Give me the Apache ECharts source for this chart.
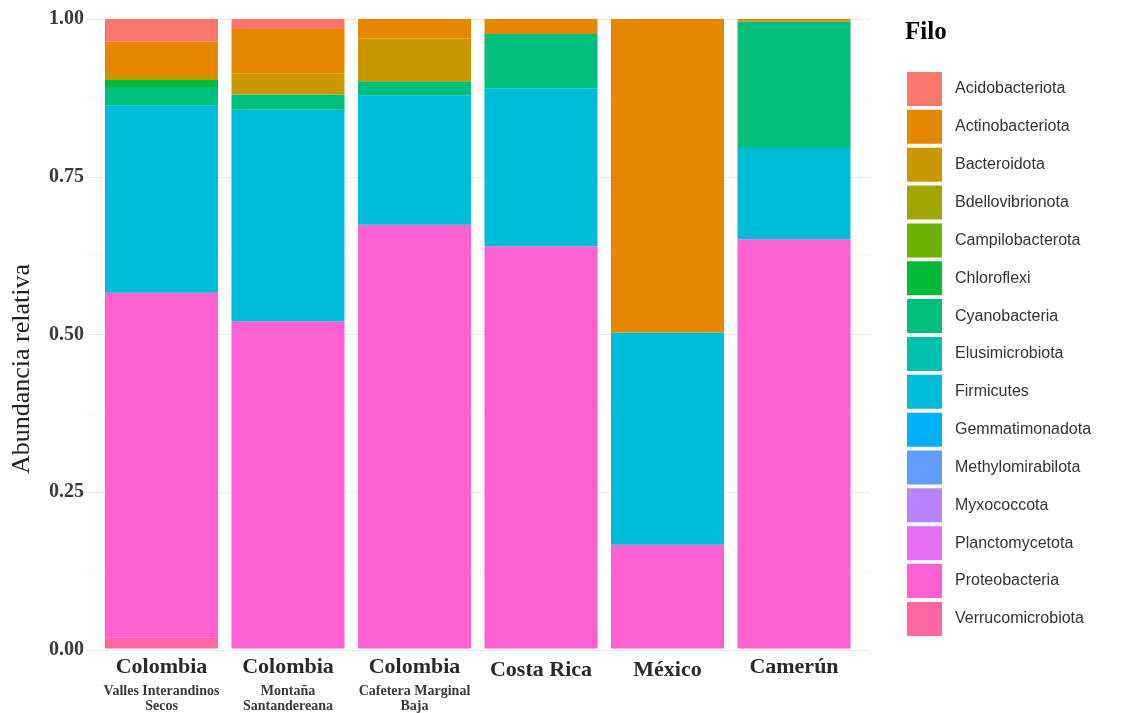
<!DOCTYPE html>
<html>
<head>
<meta charset="utf-8">
<script src="https://cdn.jsdelivr.net/npm/echarts@6/dist/echarts.min.js"></script>
<style>
html,body{margin:0;padding:0;background:#fff;}
#chart{width:1126px;height:713px;}
</style>
</head>
<body>
<div id="chart"></div>
<script>
// Categories
const countries = ['Colombia', 'Colombia', 'Colombia', 'Costa Rica', 'México', 'Camerún'];
const subregions = [['Valles Interandinos', 'Secos'], ['Montaña', 'Santandereana'], ['Cafetera Marginal', 'Baja'], [], [], []];

// Phyla (legend order, top of stack first)
const phyla = ['Acidobacteriota', 'Actinobacteriota', 'Bacteroidota', 'Bdellovibrionota', 'Campilobacterota',
  'Chloroflexi', 'Cyanobacteria', 'Elusimicrobiota', 'Firmicutes', 'Gemmatimonadota',
  'Methylomirabilota', 'Myxococcota', 'Planctomycetota', 'Proteobacteria', 'Verrucomicrobiota'];
const phylaColors = ['#F8766D', '#E58700', '#C99800', '#A3A500', '#6BB100', '#00BA38', '#00BF7D', '#00C0AF',
  '#00BCD8', '#00B0F6', '#619CFF', '#B983FF', '#E76BF3', '#FD61D1', '#FF67A4'];

// Relative abundance per phylum, one value per category
const Acidobacteriota   = [0.036, 0.016, 0.000, 0.000, 0.000, 0.000];
const Actinobacteriota  = [0.053, 0.070, 0.031, 0.024, 0.498, 0.004];
const Bacteroidota      = [0.008, 0.034, 0.068, 0.000, 0.000, 0.000];
const Bdellovibrionota  = [0, 0, 0, 0, 0, 0];
const Campilobacterota  = [0, 0, 0, 0, 0, 0];
const Chloroflexi       = [0.011, 0.000, 0.000, 0.000, 0.000, 0.000];
const Cyanobacteria     = [0.029, 0.024, 0.022, 0.086, 0.000, 0.201];
const Elusimicrobiota   = [0, 0, 0, 0, 0, 0];
const Firmicutes        = [0.298, 0.336, 0.206, 0.251, 0.337, 0.145];
const Gemmatimonadota   = [0, 0, 0, 0, 0, 0];
const Methylomirabilota = [0, 0, 0, 0, 0, 0];
const Myxococcota       = [0, 0, 0, 0, 0, 0];
const Planctomycetota   = [0, 0, 0, 0, 0, 0];
const Proteobacteria    = [0.548, 0.520, 0.673, 0.639, 0.165, 0.650];
const Verrucomicrobiota = [0.017, 0.000, 0.000, 0.000, 0.000, 0.000];

// Y tick labels
const yTicks = [0, 0.25, 0.5, 0.75, 1];

const values = {Acidobacteriota, Actinobacteriota, Bacteroidota, Bdellovibrionota, Campilobacterota,
  Chloroflexi, Cyanobacteria, Elusimicrobiota, Firmicutes, Gemmatimonadota, Methylomirabilota,
  Myxococcota, Planctomycetota, Proteobacteria, Verrucomicrobiota};

const categories = countries.map((c, i) => c + '|' + subregions[i].join('|'));

const SERIF = '"Liberation Serif", "DejaVu Serif", serif';
const SANS = '"Liberation Sans", Arial, sans-serif';

// series: bottom of stack first (reverse of legend order)
const series = phyla.slice().reverse().map(name => ({
  name: name,
  type: 'bar',
  stack: 'total',
  xAxisIndex: 1,
  yAxisIndex: 1,
  barWidth: 113,
  itemStyle: {color: phylaColors[phyla.indexOf(name)]},
  emphasis: {disabled: true},
  data: values[name]
}));

const chart = echarts.init(document.getElementById('chart'), null, {renderer: 'canvas'});
chart.setOption({
  animation: false,
  backgroundColor: '#ffffff',
  grid: [
    {left: 86, right: 256, top: 19, bottom: 63},
    {left: 98.25, right: 268.75, top: 19, bottom: 63}
  ],
  xAxis: [
    {gridIndex: 0, type: 'value', min: 0, max: 1, show: false},
    {
      gridIndex: 1, type: 'category', data: categories,
      axisLine: {show: false}, axisTick: {show: false}, splitLine: {show: false},
      axisLabel: {
        interval: 0, margin: 3,
        formatter: function (v) {
          const parts = v.split('|');
          if (parts.length === 1 || parts[1] === '') {
            const style = (parts[0] === 'Camerún') ? 'a' : 'c';
            return '{' + style + '|' + parts[0] + '}';
          }
          return '{a|' + parts[0] + '}\n' + parts.slice(1).map(p => '{b|' + p + '}').join('\n');
        },
        rich: {
          a: {fontFamily: SERIF, fontWeight: 'bold', fontSize: 22, color: '#2a2a2a', lineHeight: 32},
          b: {fontFamily: SERIF, fontWeight: 'bold', fontSize: 14, color: '#3a3a3a', lineHeight: 15},
          c: {fontFamily: SERIF, fontWeight: 'bold', fontSize: 22, color: '#2a2a2a', lineHeight: 38}
        }
      }
    }
  ],
  yAxis: [
    {
      gridIndex: 0, type: 'value', min: yTicks[0], max: yTicks[yTicks.length - 1], interval: 0.25,
      axisLine: {show: false}, axisTick: {show: false},
      axisLabel: {
        margin: 2, fontFamily: SERIF, fontWeight: 'bold', fontSize: 20, color: '#3a3a3a',
        formatter: v => v.toFixed(2)
      },
      splitLine: {show: true, lineStyle: {color: '#ebebeb', width: 1}},
      minorTick: {show: false, splitNumber: 2},
      minorSplitLine: {show: true, lineStyle: {color: '#f3f3f3', width: 0.6}}
    },
    {gridIndex: 1, type: 'value', min: 0, max: 1, show: false, splitLine: {show: false}}
  ],
  legend: {
    orient: 'vertical',
    left: 907, top: 72,
    padding: 0,
    itemWidth: 35, itemHeight: 34, itemGap: 3.85,
    icon: 'rect',
    selectedMode: false,
    data: phyla,
    textStyle: {fontFamily: SANS, fontSize: 16, color: '#333', padding: [0, 0, 0, 8]}
  },
  graphic: [
    {
      type: 'text', left: 905, top: 20,
      style: {text: 'Filo', font: 'bold 25px ' + SERIF, fill: '#000'}
    },
    {
      type: 'text', x: 22, y: 369, rotation: Math.PI / 2,
      style: {text: 'Abundancia relativa', font: '26px ' + SERIF, fill: '#222',
        textAlign: 'center', textVerticalAlign: 'middle'}
    }
  ],
  series: series
});
</script>
</body>
</html>
